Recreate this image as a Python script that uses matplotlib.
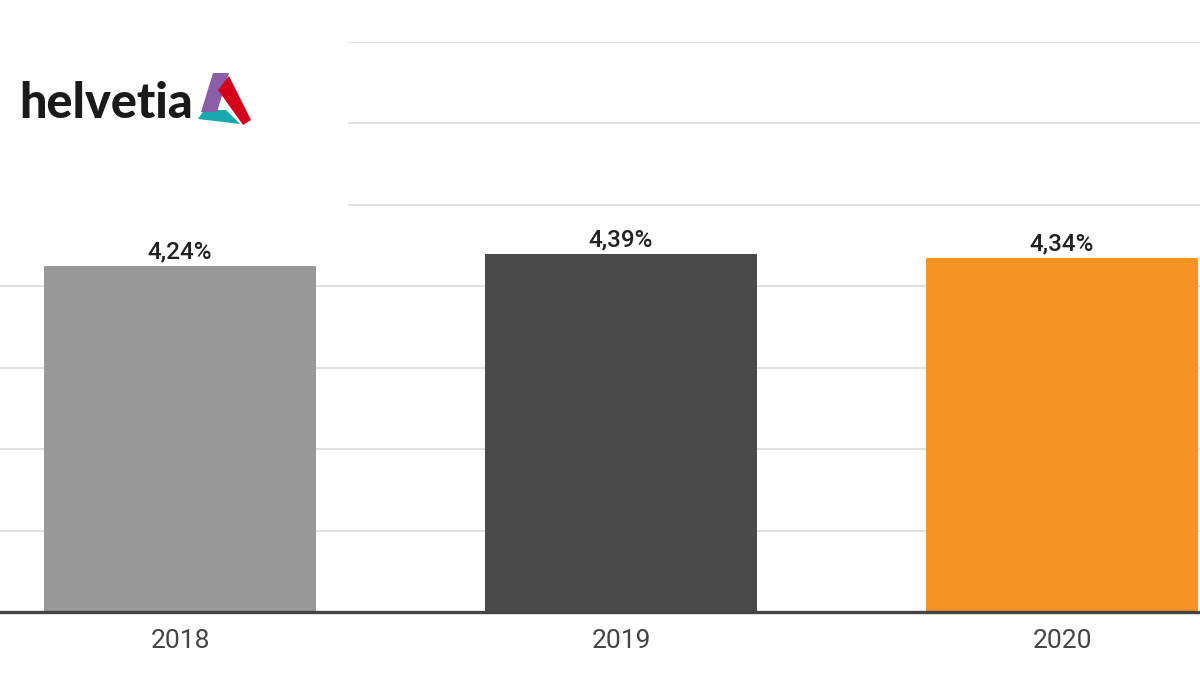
import matplotlib
matplotlib.use('Agg')
import matplotlib.pyplot as plt
from matplotlib.patches import Rectangle, Polygon

# data
years = ['2018', '2019', '2020']
rates = [4.24, 4.39, 4.34]
labels = ['4,24%', '4,39%', '4,34%']
bar_colors = ['#999999', '#4a4a4a', '#f59422']

W, H = 1200, 675
fig = plt.figure(figsize=(12, 6.75), dpi=100)
fig.patch.set_facecolor('white')

# axes spill over both image edges (cropped chart)
x0, x1 = -40.5, 1282.5
y_base, y_top = 612, 41.5
ax = fig.add_axes([x0 / W, (H - y_base) / H, (x1 - x0) / W, (y_base - y_top) / H])

xs = range(len(years))
ax.bar(xs, rates, width=0.615, color=bar_colors, zorder=3)
ax.set_xlim(-0.5, len(years) - 0.5)
ax.set_ylim(0, 7)

for x, v, lab in zip(xs, rates, labels):
    ax.annotate(lab, (x, v), xytext=(0, 6), textcoords='offset points',
                ha='center', va='baseline', fontsize=17.5, family='Roboto',
                fontweight='medium', color='#222222', zorder=4)

ax.set_yticks(range(1, 8))
ax.yaxis.grid(True, color='#dddddd', linewidth=1.3)
ax.set_axisbelow(True)
ax.tick_params(axis='y', left=False, labelleft=False)
ax.tick_params(axis='x', bottom=False, pad=9)
ax.set_xticks(list(xs))
ax.set_xticklabels(years, fontsize=19, family='Roboto', color='#444444')
for s in ax.spines.values():
    s.set_visible(False)
ax.axhline(0, color='#444444', linewidth=2.4, zorder=5, clip_on=False)

# white panel behind the logo hides the upper gridlines
ax.add_patch(Rectangle((0, (H - 250) / H), 348 / W, 250 / H, transform=fig.transFigure,
                       facecolor='white', edgecolor='none', clip_on=False, zorder=2))

# logo
fig.text(19 / W, (H - 118) / H, 'helvetia', fontsize=35, family='Lato',
         fontweight='black', color='#1a1a1a', va='baseline', ha='left')


def px(pts):
    return [(x / W, (H - y) / H) for x, y in pts]


def logo_part(pts, color):
    fig.patches.append(Polygon(px(pts), closed=True, facecolor=color, edgecolor='none',
                               transform=fig.transFigure, figure=fig))


logo_part([(198, 119), (204, 110), (226, 110), (240, 124)], '#17a9ae')
logo_part([(201, 112), (213, 73), (229, 73), (217, 112)], '#8a5fa8')
logo_part([(218, 90), (229, 76), (251, 120), (243, 125)], '#d3001c')

fig.savefig('out.png', dpi=100, facecolor='white')
